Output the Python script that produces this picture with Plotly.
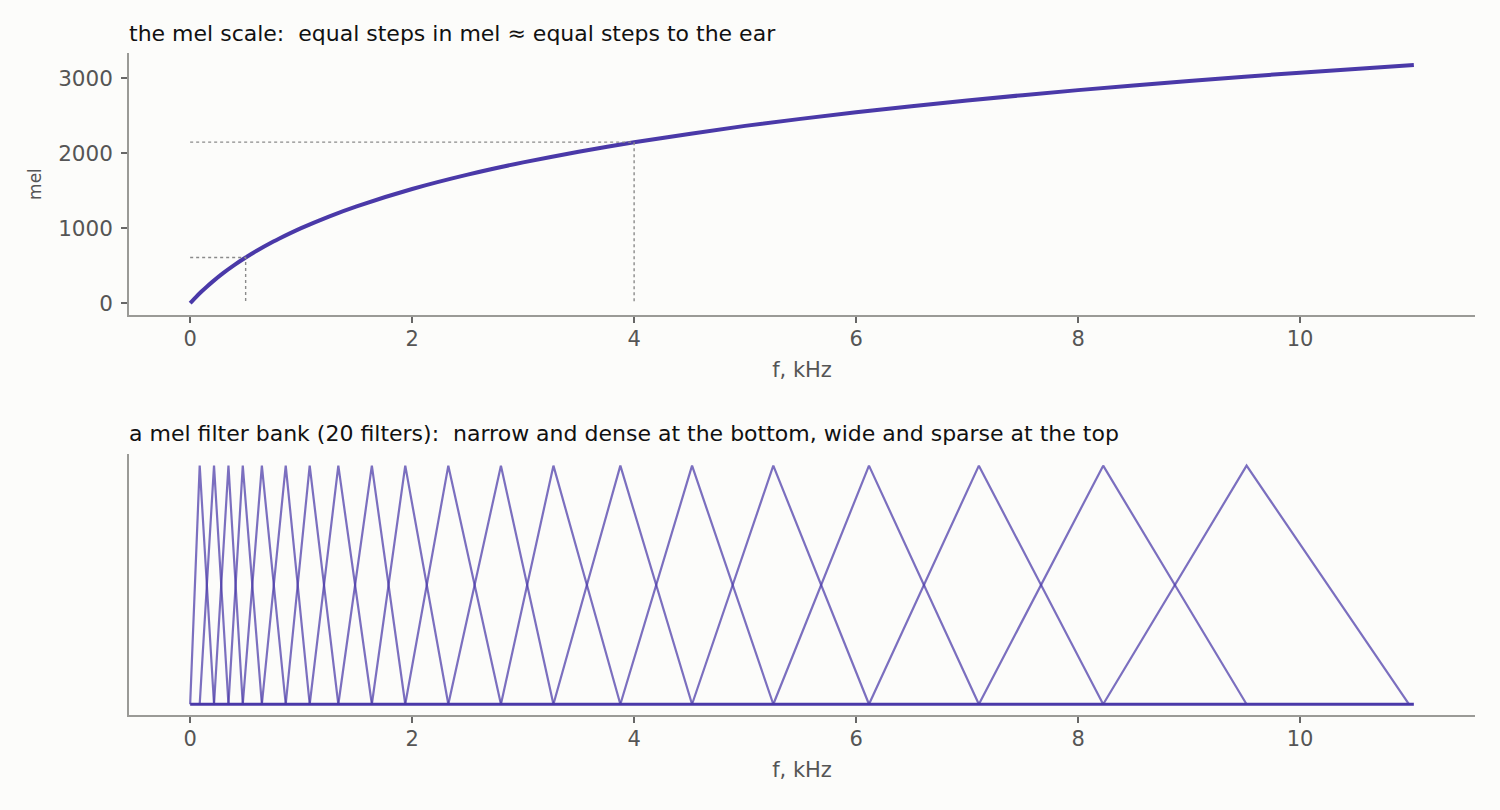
import plotly.graph_objects as go

# ---- data ----
# mel scale curve: frequency (kHz) and mel value
curve_f = [0, 0.05, 0.1, 0.15, 0.2, 0.3, 0.4, 0.5, 0.6, 0.75, 0.8, 1.0, 1.25, 1.5, 2.0, 2.5,
           3.0, 3.5, 4.0, 5.0, 6.0, 7.0, 8.0, 9.0, 10.0, 11.025]
curve_mel = [0, 77.8, 150.5, 218.8, 283.2, 402.0, 509.4, 607.4, 697.7, 820.7, 858.9, 1000.0,
             1154.6, 1290.5, 1521.3, 1712.8, 1876.4, 2019.3, 2146.1, 2363.5, 2545.6, 2702.4,
             2840.1, 2962.6, 3073.2, 3176.3]

# dotted guide points on the curve
guide_f = [0.5, 4.0]
guide_mel = [607.4, 2146.1]

# filter bank edges (kHz): 22 edges -> 20 triangular filters
filter_edges = [0, 0.086, 0.215, 0.345, 0.474, 0.646, 0.861, 1.077, 1.335, 1.637, 1.938,
                2.326, 2.800, 3.273, 3.876, 4.522, 5.254, 6.116, 7.106, 8.226, 9.518, 10.982]
filter_peak = 1.0
f_max = 11.025

x_ticks = [0, 2, 4, 6, 8, 10]
mel_ticks = [0, 1000, 2000, 3000]

# ---- style ----
BG = "#fcfcfa"
PURPLE = "#4a39a8"
FILTER = "rgba(74,57,168,0.72)"
GUIDE = "#8a8a8a"
AXIS = "#9a9a96"
TICK = "#666666"
FONT = "DejaVu Sans"
LABEL = "#555555"

fig = go.Figure()

# top: mel curve
fig.add_trace(go.Scatter(x=curve_f, y=curve_mel, mode="lines",
                         line=dict(color=PURPLE, width=4, shape="spline", smoothing=0.6),
                         xaxis="x", yaxis="y", hoverinfo="skip"))
for gf, gm in zip(guide_f, guide_mel):
    fig.add_trace(go.Scatter(x=[0, gf, gf], y=[gm, gm, 0], mode="lines",
                             line=dict(color=GUIDE, width=1.4, dash="dot"),
                             xaxis="x", yaxis="y", hoverinfo="skip"))

# bottom: baseline + filters
fig.add_trace(go.Scatter(x=[0, f_max], y=[0, 0], mode="lines", line=dict(color=PURPLE, width=3.2),
                         xaxis="x2", yaxis="y2", hoverinfo="skip"))
for i in range(len(filter_edges) - 2):
    fig.add_trace(go.Scatter(x=[filter_edges[i], filter_edges[i + 1], filter_edges[i + 2]],
                             y=[0, filter_peak, 0], mode="lines",
                             line=dict(color=FILTER, width=2.2),
                             xaxis="x2", yaxis="y2", hoverinfo="skip"))

xr = [-0.551, 11.576]
common_x = dict(range=xr, showline=True, linecolor=AXIS, linewidth=1.6, ticks="outside",
                ticklen=6, tickwidth=1.6, tickcolor=TICK, showgrid=False, zeroline=False,
                tickvals=x_ticks, ticktext=[str(v) for v in x_ticks],
                tickfont=dict(family=FONT, size=21, color=LABEL),
                title=dict(text="f, kHz", font=dict(family=FONT, size=21, color=LABEL), standoff=12),
                ticklabelstandoff=-2, fixedrange=True)

fig.update_layout(
    width=1500, height=810,
    paper_bgcolor=BG, plot_bgcolor=BG,
    margin=dict(l=129, r=25, t=53, b=95),
    showlegend=False,
    font=dict(family=FONT),
    xaxis=dict(domain=[0, 1], anchor="y", **common_x),
    yaxis=dict(domain=[0.6042, 1], anchor="x", range=[-158.8, 3335.1], showline=True, linecolor=AXIS,
               linewidth=1.6, ticks="outside", ticklen=6, tickwidth=1.6, tickcolor=TICK,
               showgrid=False, zeroline=False, tickvals=mel_ticks, ticktext=[str(v) for v in mel_ticks],
               tickfont=dict(family=FONT, size=21.5, color=LABEL), ticklabelstandoff=4,
               title=dict(text="mel", font=dict(family=FONT, size=17, color=LABEL), standoff=12),
               fixedrange=True),
    xaxis2=dict(domain=[0, 1], anchor="y2", **common_x),
    yaxis2=dict(domain=[0, 0.3943], anchor="x2", range=[-0.045, 1.049], showline=True, linecolor=AXIS,
                linewidth=1.6, ticks="", showticklabels=False, showgrid=False, zeroline=False,
                fixedrange=True),
    annotations=[
        dict(text="the mel scale:\u00a0 equal steps in mel \u2248 equal steps to the ear",
             xref="paper", yref="paper", x=0, y=1, xanchor="left", yanchor="bottom", yshift=5,
             xshift=-2, showarrow=False, font=dict(family=FONT, size=22, color="#111111")),
        dict(text="a mel filter bank (20 filters):\u00a0 narrow and dense at the bottom, wide and sparse at the top",
             xref="paper", yref="paper", x=0, y=0.3943, xanchor="left", yanchor="bottom", yshift=6,
             xshift=-2, showarrow=False, font=dict(family=FONT, size=22, color="#111111")),
    ],
)

fig.write_html("out.html", config={"displayModeBar": False},
               post_script="document.body.style.margin='0';document.body.style.background='#fcfcfa';")
